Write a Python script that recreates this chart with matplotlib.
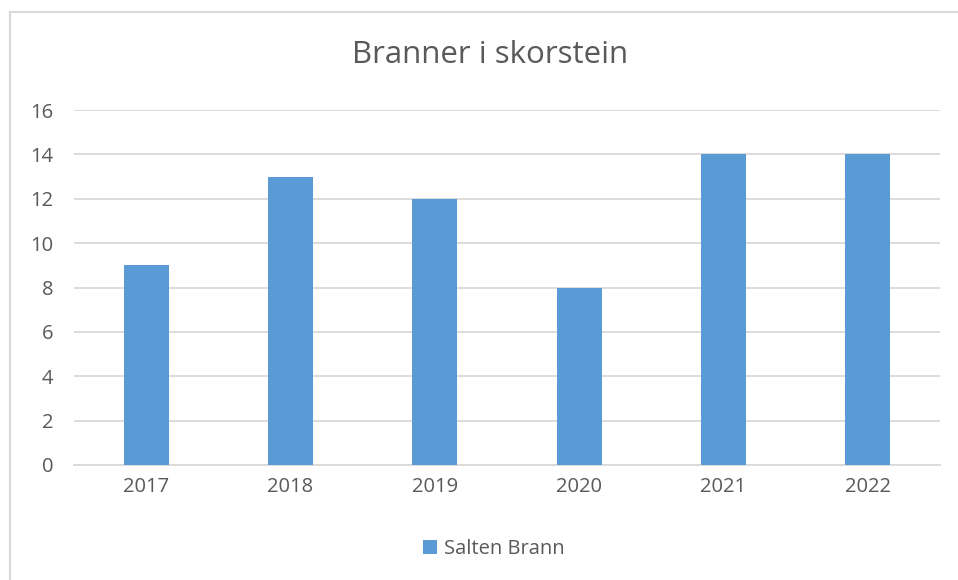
import matplotlib.pyplot as plt
from matplotlib.lines import Line2D

plt.rcParams["font.family"] = ["Open Sans", "DejaVu Sans"]

years = ["2017", "2018", "2019", "2020", "2021", "2022"]
fires = [9, 13, 12, 8, 14, 14]
series_name = "Salten Brann"
title = "Branner i skorstein"

text_color = "#595959"
grid_color = "#D9D9D9"
bar_color = "#5B9BD5"

fig = plt.figure(figsize=(9.58, 5.8), dpi=100)
ax = fig.add_axes([74 / 958, 115 / 580, 866 / 958, 355 / 580])

x = range(len(years))
ax.bar(x, fires, width=0.31, color=bar_color, label=series_name, zorder=3)

ax.set_xlim(-0.5, len(years) - 0.5)
ax.set_ylim(0, 16)
ax.set_yticks(range(0, 17, 2))
ax.set_xticks(list(x))
ax.set_xticklabels(years)
ax.yaxis.grid(True, color=grid_color, linewidth=1.3, zorder=0)
ax.xaxis.grid(False)
for s in ["top", "right", "left"]:
    ax.spines[s].set_visible(False)
ax.spines["bottom"].set_color(grid_color)
ax.spines["bottom"].set_linewidth(1.3)
ax.tick_params(axis="both", length=0, labelsize=14.5, colors=text_color)
ax.tick_params(axis="y", pad=15)
ax.tick_params(axis="x", pad=9)

fig.text(490 / 958, 1 - 55 / 580, title, ha="center", va="center",
         fontsize=22.5, color=text_color)

ax.legend(loc="center", bbox_to_anchor=(494 / 958, 1 - 549 / 580),
          bbox_transform=fig.transFigure, frameon=False, fontsize=14.5,
          labelcolor=text_color, handlelength=0.7, handleheight=0.7,
          handletextpad=0.35)

# outer chart border (left and top)
fig.add_artist(Line2D([10 / 958, 10 / 958], [0, 1 - 12 / 580],
                      transform=fig.transFigure, color=grid_color, linewidth=1.5))
fig.add_artist(Line2D([10 / 958, 1], [1 - 12 / 580, 1 - 12 / 580],
                      transform=fig.transFigure, color=grid_color, linewidth=1.5))

fig.savefig("out.png", dpi=100)
